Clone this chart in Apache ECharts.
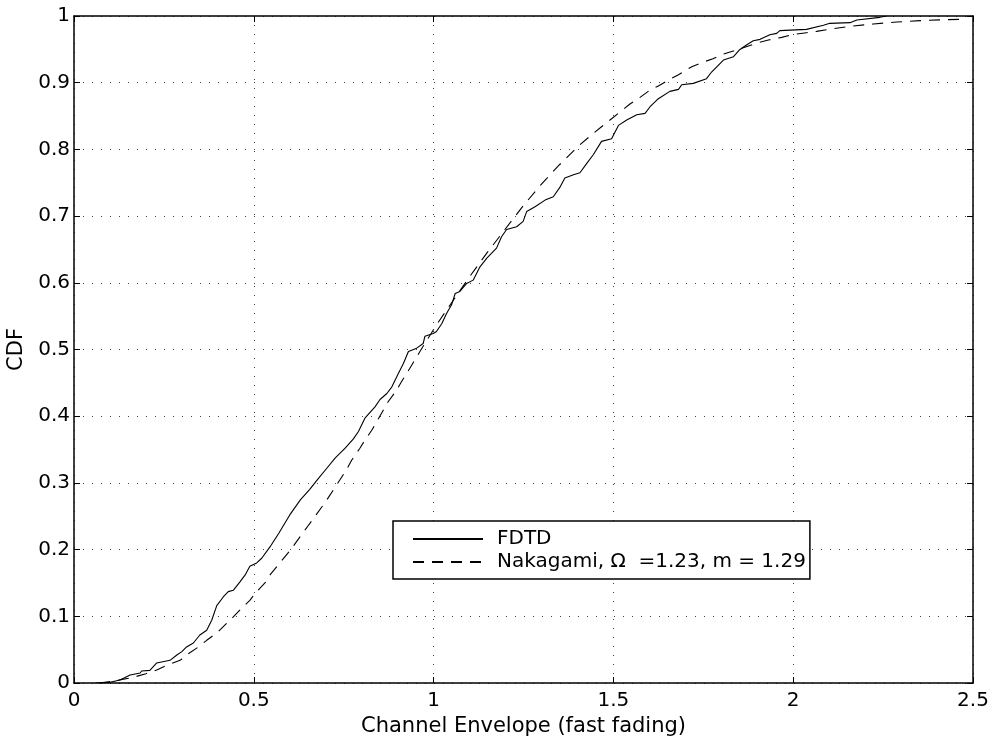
<!DOCTYPE html>
<html>
<head>
<meta charset="utf-8">
<script src="https://cdn.jsdelivr.net/npm/echarts@6/dist/echarts.min.js"></script>
<style>
html,body{margin:0;padding:0;background:#fff;}
#chart{width:999px;height:742px;}
</style>
</head>
<body>
<div id="chart"></div>
<script>
var xTicks = ['0','0.5','1','1.5','2','2.5'];
var yTicks = ['0','0.1','0.2','0.3','0.4','0.5','0.6','0.7','0.8','0.9','1'];
var seriesNames = ['FDTD', 'Nakagami, \u03A9  =1.23, m = 1.29'];

var fdtdX = [0.06,0.10,0.128,0.156,0.184,0.188,0.211,0.23,0.267,0.286,0.30,0.313,0.332,0.35,0.369,0.383,0.397,0.415,0.429,0.443,0.462,0.476,0.489,0.508,0.522,0.545,0.57,0.60,0.63,0.655,0.677,0.703,0.726,0.754,0.777,0.791,0.809,0.837,0.851,0.870,0.884,0.902,0.916,0.930,0.953,0.971,0.976,0.999,1.008,1.023,1.036,1.050,1.060,1.073,1.092,1.110,1.129,1.148,1.175,1.189,1.203,1.231,1.249,1.259,1.282,1.310,1.333,1.351,1.365,1.389,1.407,1.426,1.444,1.467,1.495,1.514,1.537,1.565,1.588,1.602,1.625,1.657,1.681,1.690,1.722,1.759,1.773,1.806,1.834,1.850,1.871,1.889,1.908,1.935,1.954,1.963,2.037,2.084,2.102,2.158,2.177,2.241,2.26];
var fdtdY = [0,0.001,0.0045,0.012,0.015,0.018,0.019,0.030,0.034,0.042,0.047,0.054,0.060,0.072,0.079,0.094,0.116,0.129,0.137,0.139,0.152,0.162,0.175,0.180,0.187,0.204,0.225,0.252,0.275,0.290,0.305,0.322,0.337,0.352,0.366,0.377,0.397,0.414,0.425,0.434,0.444,0.464,0.479,0.497,0.502,0.509,0.520,0.524,0.527,0.539,0.554,0.567,0.584,0.587,0.599,0.604,0.624,0.637,0.652,0.669,0.680,0.684,0.692,0.707,0.714,0.724,0.729,0.743,0.757,0.762,0.765,0.779,0.792,0.812,0.816,0.836,0.844,0.852,0.854,0.864,0.876,0.887,0.890,0.897,0.899,0.906,0.916,0.934,0.939,0.949,0.957,0.963,0.965,0.972,0.974,0.978,0.980,0.986,0.989,0.990,0.994,0.998,1.0];

var nakX = [0.07,0.10,0.13,0.165,0.20,0.23,0.258,0.295,0.313,0.346,0.369,0.397,0.420,0.443,0.466,0.489,0.508,0.531,0.545,0.60,0.65,0.70,0.740,0.758,0.772,0.795,0.809,0.828,0.842,0.860,0.874,0.897,0.911,0.934,0.962,1.008,1.05,1.10,1.15,1.20,1.25,1.30,1.35,1.407,1.444,1.467,1.495,1.518,1.546,1.569,1.602,1.625,1.657,1.681,1.718,1.745,1.777,1.806,1.843,1.903,1.931,1.968,1.996,2.037,2.065,2.112,2.167,2.223,2.288,2.353,2.425,2.464];
var nakY = [0,0.002,0.005,0.0085,0.014,0.0195,0.0265,0.034,0.042,0.054,0.064,0.075,0.087,0.099,0.112,0.124,0.137,0.150,0.162,0.198,0.235,0.272,0.305,0.320,0.334,0.352,0.364,0.379,0.392,0.409,0.422,0.439,0.452,0.472,0.497,0.537,0.570,0.609,0.646,0.681,0.716,0.748,0.777,0.807,0.824,0.834,0.846,0.856,0.868,0.876,0.889,0.895,0.905,0.912,0.924,0.930,0.936,0.943,0.949,0.960,0.964,0.968,0.972,0.975,0.977,0.981,0.985,0.988,0.991,0.993,0.9945,0.995];

function zip(a, b) { return a.map(function (v, i) { return [v, b[i]]; }); }

var FONT = '"DejaVu Sans", "Liberation Sans", Arial, sans-serif';
var chart = echarts.init(document.getElementById('chart'), null, {renderer: 'canvas'});

var gridLine = {show: true, lineStyle: {color: '#444', width: 1, type: [1, 8]}};
var axLine = {show: true, onZero: false, lineStyle: {color: '#000', width: 1.5}};
var axTick = {show: true, inside: true, length: 6, lineStyle: {color: '#000', width: 1}};

chart.setOption({
  animation: false,
  backgroundColor: '#fff',
  grid: {left: 74, right: 26, top: 16, bottom: 59, containLabel: false, outerBoundsMode: 'none'},
  legend: {
    orient: 'vertical',
    left: 393, top: 521,
    backgroundColor: '#fff',
    borderColor: '#000', borderWidth: 1.5, borderRadius: 0,
    padding: [8, 4, 7, 19],
    itemGap: 3,
    itemWidth: 70, itemHeight: 20,
    itemStyle: {opacity: 0},
    textStyle: {fontFamily: FONT, fontSize: 20, color: '#000', padding: [0, 0, 0, 9]},
    data: [seriesNames[0], seriesNames[1]]
  },
  xAxis: [{
    type: 'value', min: 0, max: 2.5, interval: 0.5, position: 'bottom',
    name: 'Channel Envelope (fast fading)', nameLocation: 'middle', nameGap: 24,
    nameTextStyle: {fontFamily: FONT, fontSize: 21, color: '#000'},
    axisLine: axLine, axisTick: axTick,
    axisLabel: {fontFamily: FONT, fontSize: 20, color: '#000', margin: 8,
      formatter: function (v) { return xTicks[Math.round(v / 0.5)]; }},
    splitLine: gridLine
  }, {
    type: 'value', min: 0, max: 2.5, interval: 0.5, position: 'top',
    axisLine: axLine, axisTick: axTick, axisLabel: {show: false}, splitLine: {show: false}
  }],
  yAxis: [{
    type: 'value', min: 0, max: 1, interval: 0.1, position: 'left',
    name: 'CDF', nameLocation: 'middle', nameGap: 41, nameRotate: 90,
    nameTextStyle: {fontFamily: FONT, fontSize: 21, color: '#000'},
    axisLine: axLine, axisTick: axTick,
    axisLabel: {fontFamily: FONT, fontSize: 20, color: '#000', margin: 4,
      formatter: function (v) { return yTicks[Math.round(v * 10)]; }},
    splitLine: gridLine
  }, {
    type: 'value', min: 0, max: 1, interval: 0.1, position: 'right',
    axisLine: axLine, axisTick: axTick, axisLabel: {show: false}, splitLine: {show: false}
  }],
  series: [{
    name: seriesNames[0], type: 'line', showSymbol: false, symbol: 'none',
    data: zip(fdtdX, fdtdY),
    lineStyle: {color: '#000', width: 1.1, type: 'solid'},
    itemStyle: {color: '#000'}
  }, {
    name: seriesNames[1], type: 'line', showSymbol: false, symbol: 'none',
    data: zip(nakX, nakY),
    lineStyle: {color: '#000', width: 1.1, type: [11, 8]},
    itemStyle: {color: '#000'}
  }]
});
</script>
</body>
</html>
